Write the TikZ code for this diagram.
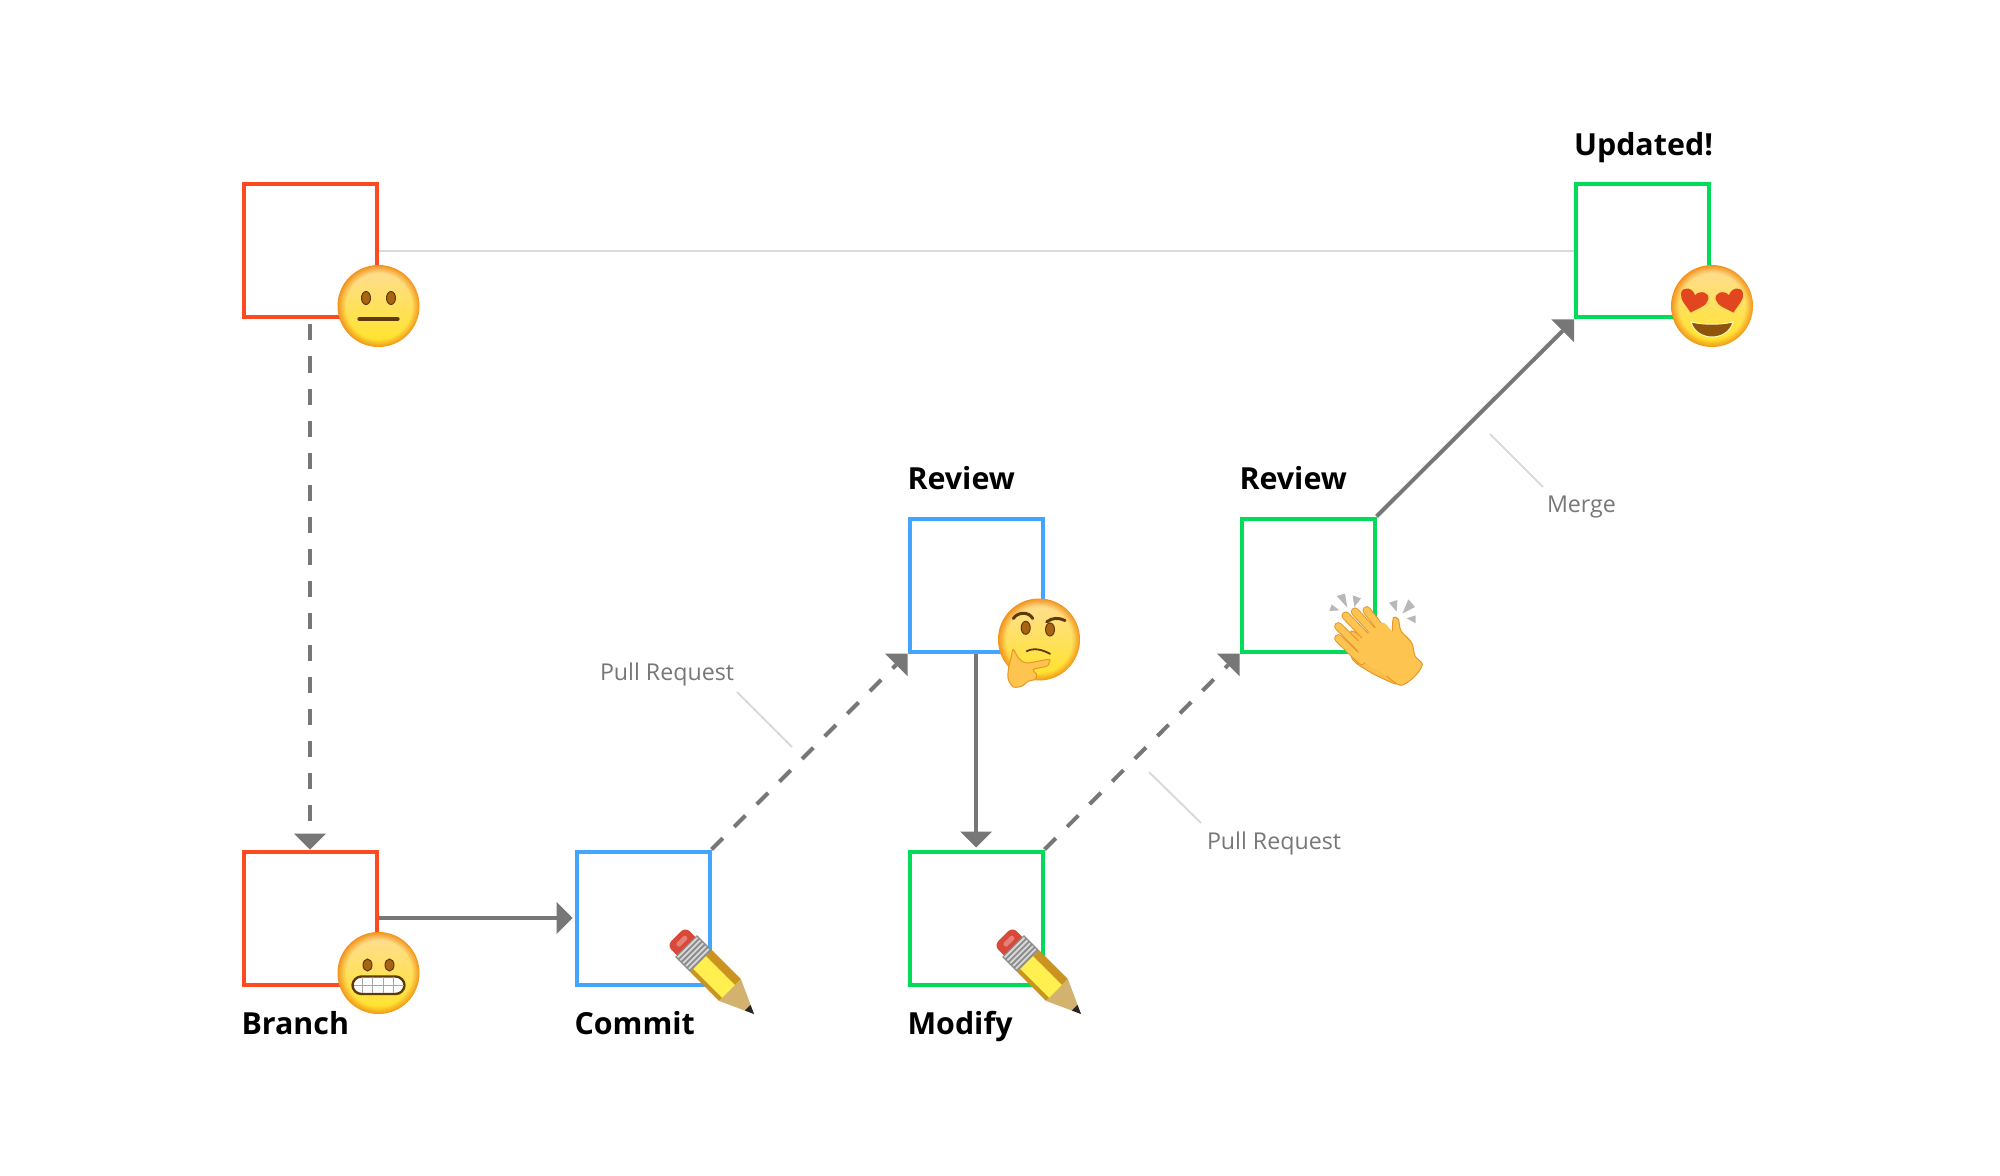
\documentclass[tikz,border=0pt]{standalone}
\usepackage{fontspec}
\setmainfont{Open Sans}
\usetikzlibrary{arrows.meta}
\usetikzlibrary{positioning}
\usetikzlibrary{calc}
\usetikzlibrary{fadings}

\definecolor{rojo}{HTML}{FF4A21}
\definecolor{azul}{HTML}{42A5FF}
\definecolor{verde}{HTML}{00DC5A}
\definecolor{gris}{HTML}{777777}
\definecolor{grisclaro}{HTML}{DADADA}
\definecolor{facerim}{HTML}{F2921A}
\definecolor{facetop}{HTML}{FFDD96}
\definecolor{facemid}{HTML}{FBB62E}
\definecolor{facelow}{HTML}{FFE425}
\definecolor{eyefill}{HTML}{A9640F}
\definecolor{eyedark}{HTML}{5E3A08}
\definecolor{heartred}{HTML}{E2461E}
\definecolor{handfill}{HTML}{FDC550}
\definecolor{handline}{HTML}{E8952A}
\definecolor{woodtan}{HTML}{D2B26E}
\definecolor{bodyorange}{HTML}{CB9420}
\definecolor{bodyyellow}{HTML}{FFF050}
\definecolor{eraserred}{HTML}{D8493A}

\tikzset{
    gitbox/.style={draw=#1, line width=2pt, minimum size=66.5pt, inner sep=0pt},
    steplabel/.style={font=\bfseries\fontsize{15.2}{17}\selectfont, text=black, inner sep=0pt, outer sep=0pt, anchor=base west},
    notelabel/.style={font=\fontsize{11.6}{13}\selectfont, text=gris, inner sep=0pt, outer sep=0pt, anchor=base west},
    leader/.style={draw=grisclaro, line width=1pt},
    solidarrow/.style={draw=gris, line width=2pt, -{Triangle[length=8pt,width=16pt,line width=0pt]}},
    dashedarrow/.style={solidarrow, dash pattern=on 8pt off 8pt},
    % the same round base under every face
    facebase/.pic={
        \fill[facerim] (0,0) circle (41);
        \shade[top color=facetop, middle color=facemid, bottom color=facelow, path fading=circle with fuzzy edge 20 percent] (0,0) circle (41);
    },
    faceeye/.style={fill=eyefill, draw=eyedark, line width=.5pt},
    faceneutral/.pic={
        \pic {facebase};
        \path[faceeye] (-12.5,-8) ellipse [x radius=4.5, y radius=6.5];
        \path[faceeye] (12.5,-8) ellipse [x radius=4.5, y radius=6.5];
        \draw[eyedark, line width=2.2pt, line cap=round] (-19,13) -- (19,13);
    },
    facegrimace/.pic={
        \pic {facebase};
        \path[faceeye] (-11,-8) ellipse [x radius=4.5, y radius=6];
        \path[faceeye] (11,-8) ellipse [x radius=4.5, y radius=6];
        \draw[fill=white, draw=eyedark, line width=1.2pt, rounded corners=4.5pt] (-26,3.5) rectangle (26,21);
        \foreach \gx in {-16,-6,5,15} \draw[black!35, line width=.5pt] (\gx,4) -- (\gx,20);
        \draw[black!35, line width=.5pt] (-25,12) -- (25,12);
    },
    faceheart/.pic={
        \pic {facebase};
        \foreach \hx/\ha in {-18.5/-14, 18.5/14} {
            \begin{scope}[shift={(\hx,-5)}, rotate=\ha]
                \fill[heartred] (0,12) .. controls (-6,6) and (-14,2) .. (-14,-5) .. controls (-14,-12) and (-4,-13) .. (0,-6) .. controls (4,-13) and (14,-12) .. (14,-5) .. controls (14,2) and (6,6) .. (0,12) -- cycle;
            \end{scope}
        }
        \fill[eyefill!85!black, draw=white!70!yellow, line width=.5pt] (-21,16) .. controls (-8,19) and (8,19) .. (21,16) .. controls (18,27) and (8,31) .. (0,31) .. controls (-8,31) and (-18,27) .. (-21,16) -- cycle;
    },
    facethink/.pic={
        \pic {facebase};
        \path[faceeye] (-13.3,-11.7) ellipse [x radius=4.5, y radius=6.5];
        \path[faceeye] (11,-10) ellipse [x radius=4.5, y radius=6.5];
        \draw[eyedark, line width=1.5pt, line cap=round] (-25.7,-21) .. controls (-21,-28) and (-10,-28) .. (-6.3,-21);
        \draw[eyedark, line width=1.5pt, line cap=round] (7.7,-17.6) .. controls (13,-22) and (20,-22) .. (26,-19);
        \draw[eyedark, line width=.9pt, line cap=round] (-12.3,11.7) .. controls (-5,8) and (3,10) .. (11,14.3);
        \path[fill=handfill, draw=handline, line width=.5pt] plot[smooth cycle, tension=.5] coordinates {(-25.7,10) (-20.7,18.4) (-12.3,23.4) (9.3,20) (10,23.4) (7.7,26.7) (-5.7,30) (-2.3,35) (-4,40) (-10.7,41.7) (-17.3,46.7) (-25.7,47.4) (-30.7,40) (-30.7,30) (-28,18.4)};
    },
    clapfinger/.style={line cap=round, line width=4.2pt},
    clap/.pic={
        \begin{scope}[scale=1/3]
            % sparks round the hands
            \fill[black!28] (65,45) -- (90,38) -- (97,80) -- cycle;
            \fill[black!28] (113,43) -- (138,52) -- (118,78) -- cycle;
            \fill[black!28] (43,90) -- (50,70) -- (73,88) -- cycle;
            \fill[black!28] (222,65) -- (247,57) -- (245,92) -- cycle;
            \fill[black!28] (280,55) -- (300,78) -- (262,98) -- cycle;
            \fill[black!28] (275,112) -- (302,103) -- (302,127) -- cycle;
            % back hand, then front hand
            \path[fill=handfill!85!handline, draw=handline, line width=.5pt] plot[smooth cycle, tension=.5] coordinates {(110,150) (200,220) (245,305) (215,298) (160,270) (110,230)};
            \foreach \ax/\ay/\bx/\by in {70/172/140/240, 70/136/150/215, 92/104/180/195, 120/92/200/180, 155/88/215/165} {
                \draw[clapfinger, draw=handline] (\ax,\ay) -- (\bx,\by);
                \draw[clapfinger, draw=handfill, line width=3.2pt] (\ax,\ay) -- (\bx,\by);
            }
            \path[fill=handfill] plot[smooth cycle, tension=.5] coordinates {(170,150) (205,125) (232,150) (235,110) (250,115) (258,150) (290,185) (300,225) (322,250) (300,285) (258,313) (215,285) (150,245) (125,190)};
            \draw[handline, line width=.5pt] plot[smooth, tension=.5] coordinates {(232,150) (235,110) (250,115) (258,150) (290,185) (300,225) (322,250) (300,285) (258,313) (215,285)};
        \end{scope}
    },
    pencil/.pic={
        \begin{scope}[x={(-0.3536pt,0.3536pt)}, y={(0.3536pt,0.3536pt)}]
            % wood, lead
            \fill[woodtan] (0,0) -- (34,-15.5) -- (34,15.5) -- cycle;
            \fill[black!85] (0,0) -- (9,-4) -- (9,4) -- cycle;
            % body
            \fill[bodyorange] (34,-15.5) -- (75,-15.5) -- (75,15.5) -- (34,15.5) -- cycle;
            \fill[bodyyellow] (34,-11) -- (75,-11) -- (75,7) -- (34,7) -- cycle;
            % eraser
            \fill[eraserred, rounded corners=3pt] (90,-13) -- (110,-13) -- (110,13) -- (90,13) -- cycle;
            \fill[eraserred!70!white, rounded corners=1pt] (100,-6) -- (105,-6) -- (105,7) -- (100,7) -- cycle;
            % metal band
            \fill[black!45] (75,-15.5) -- (96,-15.5) -- (96,15.5) -- (75,15.5) -- cycle;
            \foreach \mx in {78,82,86,90,94} \draw[white!85!black, line width=.9pt] (\mx,-14) -- (\mx,14);
        \end{scope}
    }
}

\begin{document}
\begin{tikzpicture}[x=.5pt, y=-.5pt]
    \useasboundingbox (0,0) rectangle (2000,1176);

    % Boxes
    \node[gitbox=rojo] (mainbox) at (310,251) {};
    \node[gitbox=rojo, below=265pt of mainbox] (branchbox) {};
    \node[gitbox=azul, right=98pt of branchbox] (commitbox) {};
    \node[gitbox=verde, right=98pt of commitbox] (modifybox) {};
    \node[gitbox=azul, above=98pt of modifybox] (reviewbox) {};
    \node[gitbox=verde, right=97.5pt of reviewbox] (approvebox) {};
    \node[gitbox=verde] (updatedbox) at (1642.5,251) {};

    % Step labels
    \node[steplabel] (branchlabel) at ($(branchbox.south west)+(0,48)$) {Branch};
    \node[steplabel] (commitlabel) at ($(commitbox.south west)+(0,48)$) {Commit};
    \node[steplabel] (modifylabel) at ($(modifybox.south west)+(0,48)$) {Modify};
    \node[steplabel] (reviewlabel) at ($(reviewbox.north west)+(0,-27)$) {Review};
    \node[steplabel] (approvelabel) at ($(approvebox.north west)+(0,-27)$) {Review};
    \node[steplabel] (updatedlabel) at ($(updatedbox.north west)+(0,-27)$) {Updated!};

    % Connectors
    \draw[leader] (mainbox.east) -- (updatedbox.west);
    \draw[dashedarrow, shorten <=2.5pt] (mainbox.south) -- (branchbox.north);
    \draw[solidarrow, shorten >=1pt] (branchbox.east) -- (commitbox.west);
    \draw[dashedarrow] (commitbox.north east) -- (reviewbox.south west);
    \draw[solidarrow, shorten >=1pt] (reviewbox.south) -- (modifybox.north);
    \draw[dashedarrow] (modifybox.north east) -- (approvebox.south west);
    \draw[solidarrow] (approvebox.north east) -- (updatedbox.south west);

    % Notes with their leader lines
    \node[notelabel] (pullnotea) at (600,680) {Pull Request};
    \node[notelabel] (pullnoteb) at (1207,849) {Pull Request};
    \node[notelabel] (mergenote) at (1547,512) {Merge};
    \coordinate (pulla1) at (737,692);
    \coordinate (pulla2) at (792,747);
    \coordinate (pullb1) at (1149,772);
    \coordinate (pullb2) at (1201,823);
    \coordinate (merge1) at (1490,434);
    \coordinate (merge2) at (1543,487);
    \draw[leader] (pulla1) -- (pulla2);
    \draw[leader] (pullb1) -- (pullb2);
    \draw[leader] (merge1) -- (merge2);

    % Emoji
    \pic at ($(mainbox.south east)+(0,-13.5)$) {faceneutral};
    \pic at ($(branchbox.south east)+(0,-13.5)$) {facegrimace};
    \pic at ($(updatedbox.south east)+(1,-13.5)$) {faceheart};
    \pic at ($(reviewbox.south east)+(-5.5,-14)$) {facethink};
    \pic at ($(approvebox.south east)+(-61.5,-72.5)$) {clap};
    \pic at ($(commitbox.south east)+(42.5,27.5)$) {pencil};
    \pic at ($(modifybox.south east)+(36.5,27.5)$) {pencil};
\end{tikzpicture}
\end{document}
